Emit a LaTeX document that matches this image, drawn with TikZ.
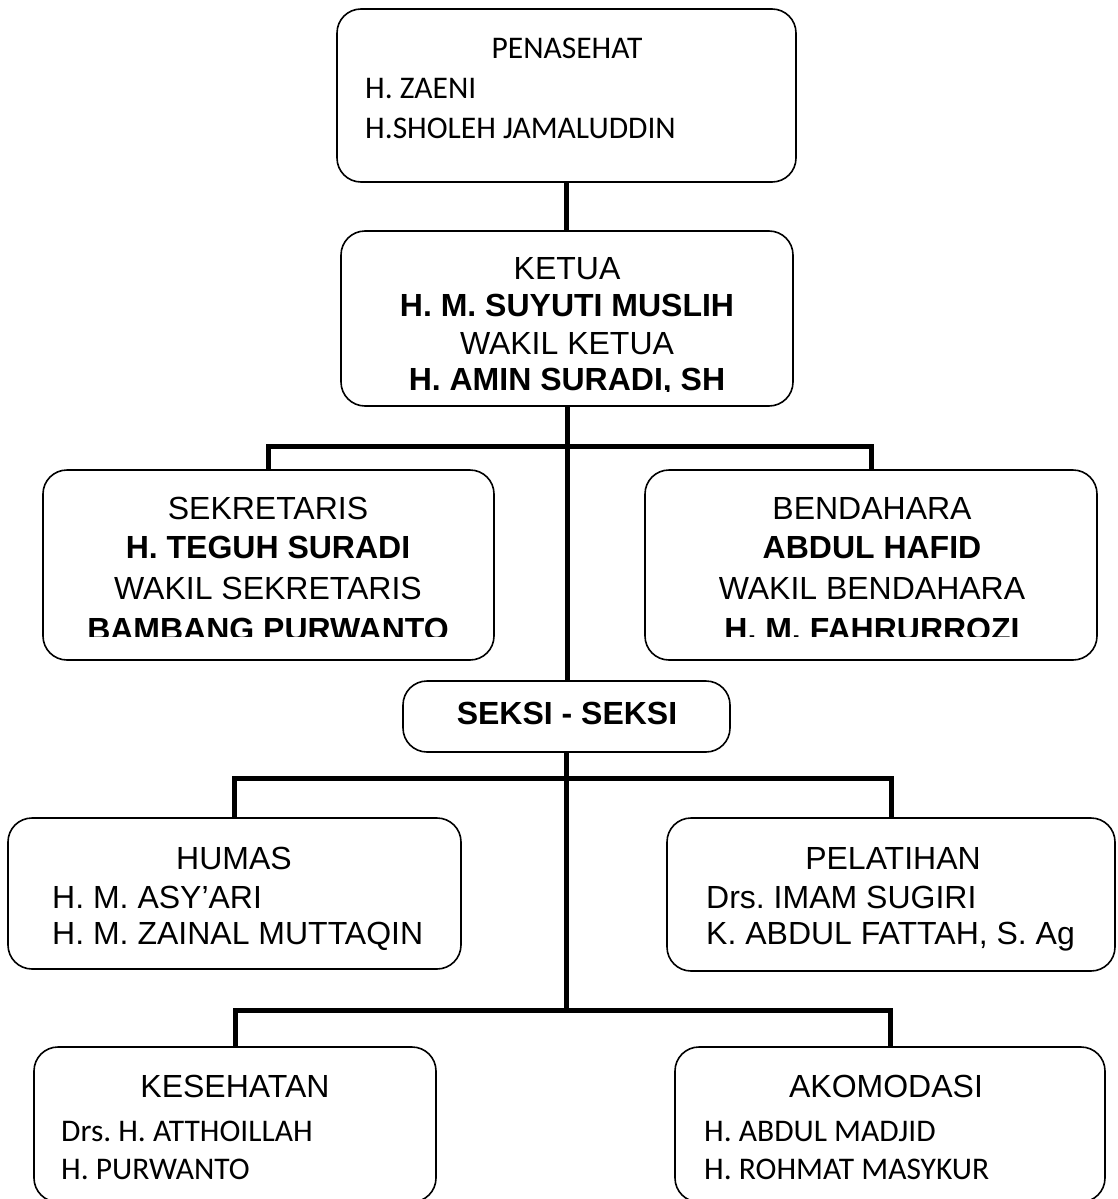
\documentclass[tikz,border=0pt]{standalone}
\usepackage{fontspec}
\setmainfont{Liberation Sans}
\newfontfamily\calibrifont{Carlito}
\frenchspacing

\begin{document}
\begin{tikzpicture}[
        x=1pt, y=-1pt,
        orgbox/.style={
            draw=black,
            line width=1.6pt,
            rounded corners=24pt,
            inner sep=0pt},
        conn/.style={line width=5pt},
        ttl/.style={anchor=base, inner sep=0pt, font=\fontsize{32}{38}\selectfont},
        ttlb/.style={anchor=base, inner sep=0pt, font=\fontsize{32}{38}\selectfont\bfseries},
        namel/.style={anchor=base west, inner sep=0pt, font=\fontsize{32}{38}\selectfont},
        namec/.style={anchor=base west, inner sep=0pt, font=\fontsize{31.5}{37}\selectfont\calibrifont},
        ttlc/.style={anchor=base, inner sep=0pt, font=\fontsize{31.5}{37}\selectfont\calibrifont}
        ]
        \useasboundingbox (0,0) rectangle (1117,1199);

        % boxes
        \node[orgbox, minimum width=459pt, minimum height=173pt] (pen) at (566.5,95.5) {};
        \node[orgbox, minimum width=452pt, minimum height=175pt] (ketua) at (567,318.5) {};
        \node[orgbox, minimum width=451pt, minimum height=190pt] (sek) at (268.5,565) {};
        \node[orgbox, minimum width=452pt, minimum height=190pt] (ben) at (871,565) {};
        \node[orgbox, minimum width=327pt, minimum height=71pt] (seksi) at (566.5,716.5) {};
        \node[orgbox, minimum width=453pt, minimum height=151pt] (humas) at (234.5,893.5) {};
        \node[orgbox, minimum width=448pt, minimum height=153pt] (pel) at (891,894.5) {};
        \node[orgbox, minimum width=402pt, minimum height=155pt] (kes) at (235,1124.5) {};
        \node[orgbox, minimum width=430pt, minimum height=155pt] (ako) at (890,1124.5) {};

        % connectors
        \coordinate (j1) at (566.5,446);
        \coordinate (j2) at (566.5,778);
        \coordinate (j3) at (566.5,1010);
        \draw[conn] (pen.south) -- (pen.south |- ketua.north);
        \draw[conn] (ketua.south) -- (ketua.south |- seksi.north);
        \draw[conn] (sek.north) |- (j1) -| (ben.north);
        \draw[conn] (seksi.south) -- (j3);
        \draw[conn] (humas.north) |- (j2) -| (pel.north);
        \draw[conn] (kes.north) |- (j3) -| (ako.north);

        % titles
        \foreach \nm/\x/\y/\txt in {
            tket/567/279.5/KETUA,
            twket/567/354/WAKIL KETUA,
            tsek/268/519.5/SEKRETARIS,
            twsek/268/599.5/WAKIL SEKRETARIS,
            tben/872/519.5/BENDAHARA,
            twben/872/599.5/WAKIL BENDAHARA,
            thum/234/869.5/HUMAS,
            tpel/893/869.5/PELATIHAN,
            tkes/235/1097.5/KESEHATAN,
            tako/886/1097.5/AKOMODASI}
            \node[ttl] (\nm) at (\x,\y) {\txt};
        \node[ttlc] (tpen) at (567,58.1) {PENASEHAT};

        % bold names
        \foreach \nm/\x/\y/\txt in {
            nket/567/316.5/H. M. SUYUTI MUSLIH,
            nsek/268/558.5/H. TEGUH SURADI,
            nben/872/558.5/ABDUL HAFID,
            nseksi/567/724/SEKSI - SEKSI}
            \node[ttlb] (\nm) at (\x,\y) {\txt};
        \begin{scope}
            \clip (300,360) rectangle (830,391);
            \node[ttlb] (nwket) at (567,390.5) {H. AMIN SURADI, SH};
        \end{scope}
        \begin{scope}
            \clip (0,600) rectangle (1117,636);
            \node[ttlb] (nwsek) at (268,640) {BAMBANG PURWANTO};
            \node[ttlb] (nwben) at (872,640) {H. M. FAHRURROZI};
        \end{scope}

        % names
        \foreach \nm/\x/\y/\txt in {
            nhum1/52/908.5/H. M. ASY’ARI,
            nhum2/52/944.5/H. M. ZAINAL MUTTAQIN,
            npel1/706/908.5/Drs. IMAM SUGIRI,
            npel2/706/944.5/{K. ABDUL FATTAH, S. Ag}}
            \node[namel] (\nm) at (\x,\y) {\txt};
        \foreach \nm/\x/\y/\txt in {
            npen1/365/98.1/H. ZAENI,
            npen2/365/138.1/H.SHOLEH JAMALUDDIN,
            nkes1/61/1141.1/Drs. H. ATTHOILLAH,
            nkes2/61/1179.1/H. PURWANTO,
            nako1/704/1141.1/H. ABDUL MADJID,
            nako2/704/1179.1/H. ROHMAT MASYKUR}
            \node[namec] (\nm) at (\x,\y) {\txt};
\end{tikzpicture}
\end{document}
